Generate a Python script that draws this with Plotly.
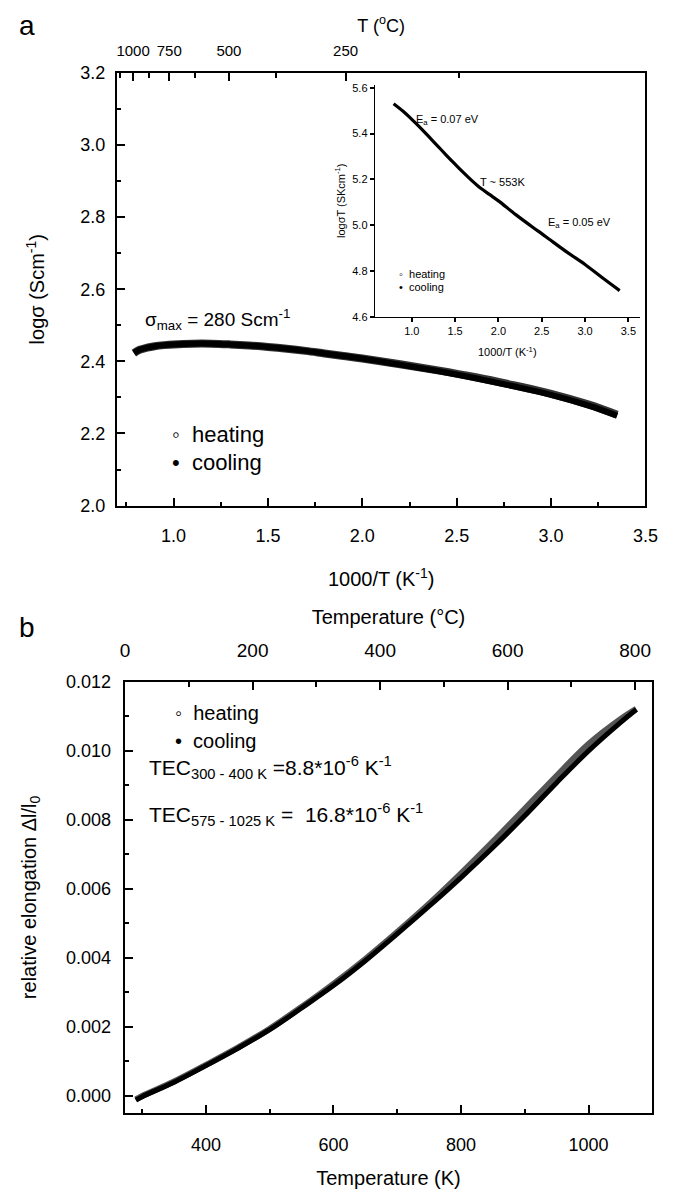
import plotly.graph_objects as go

FONT = "Arial, Liberation Sans, sans-serif"

# ---------------- Panel a: log sigma vs 1000/T ----------------
invT_a = [0.79, 0.82, 0.86, 0.90, 0.95, 1.00, 1.10, 1.20, 1.30, 1.40, 1.50, 1.60,
          1.70, 1.80, 1.90, 2.00, 2.20, 2.40, 2.60, 2.80, 3.00, 3.20, 3.35]
logsig_heat = [2.423, 2.432, 2.438, 2.442, 2.445, 2.447, 2.449, 2.449, 2.447, 2.444, 2.440, 2.435,
               2.429, 2.422, 2.415, 2.408, 2.392, 2.375, 2.356, 2.334, 2.310, 2.280, 2.252]
logsig_cool = [2.423, 2.432, 2.438, 2.442, 2.445, 2.447, 2.449, 2.449, 2.447, 2.444, 2.440, 2.435,
               2.429, 2.422, 2.415, 2.408, 2.391, 2.373, 2.353, 2.331, 2.307, 2.277, 2.249]

# top axis (°C)
topC_major = [1000, 750, 500, 250]
topC_minor = [1125, 875, 625, 375, 125]

# inset: log(sigma*T) vs 1000/T
invT_in = [0.79, 0.90, 1.00, 1.10, 1.20, 1.30, 1.40, 1.50, 1.60, 1.70, 1.76, 1.80,
           1.90, 2.00, 2.20, 2.40, 2.50, 2.60, 2.80, 3.00, 3.20, 3.40]
logsigT = [5.530, 5.497, 5.462, 5.425, 5.385, 5.345, 5.305, 5.266, 5.228, 5.192, 5.172, 5.160,
           5.133, 5.106, 5.046, 4.990, 4.963, 4.935, 4.880, 4.828, 4.770, 4.714]

# ---------------- Panel b: relative elongation ----------------
T_K = [290, 300, 350, 400, 450, 500, 550, 600, 650, 700, 750, 800, 850, 900, 950, 1000, 1050, 1075]
dl_heat = [-0.00010, 0.00000, 0.00042, 0.00090, 0.00140, 0.00195, 0.00258, 0.00325, 0.00397,
           0.00475, 0.00557, 0.00645, 0.00737, 0.00832, 0.00928, 0.01020, 0.01092, 0.01122]
dl_cool = [-0.00012, -0.00002, 0.00040, 0.00088, 0.00138, 0.00192, 0.00255, 0.00320, 0.00392,
           0.00470, 0.00550, 0.00633, 0.00720, 0.00812, 0.00908, 0.01000, 0.01082, 0.01120]
topCb_major = [0, 200, 400, 600, 800]
topCb_minor = [100, 300, 500, 700]

W, H = 675, 1194


def px(x):
    return x / W


def py(y):
    return 1 - y / H


fig = go.Figure()

# panel a curves
fig.add_trace(go.Scatter(x=invT_a, y=logsig_heat, mode="lines", xaxis="x", yaxis="y",
                         line=dict(color="#333", width=8, shape="spline"),
                         showlegend=False, hoverinfo="skip"))
fig.add_trace(go.Scatter(x=invT_a, y=logsig_cool, mode="lines", xaxis="x", yaxis="y",
                         line=dict(color="black", width=6, shape="spline"),
                         showlegend=False, hoverinfo="skip"))
# anchor trace for top axis of panel a (invisible)
fig.add_trace(go.Scatter(x=invT_a, y=logsig_cool, mode="lines", xaxis="x2", yaxis="y",
                         line=dict(color="rgba(0,0,0,0)", width=0), showlegend=False, hoverinfo="skip"))

# inset
fig.add_trace(go.Scatter(x=invT_in, y=logsigT, mode="lines", xaxis="x3", yaxis="y3",
                         line=dict(color="black", width=3.2, shape="spline"),
                         showlegend=False, hoverinfo="skip"))

# panel b
fig.add_trace(go.Scatter(x=T_K, y=dl_heat, mode="lines", xaxis="x4", yaxis="y4",
                         line=dict(color="#555", width=6, shape="spline"),
                         showlegend=False, hoverinfo="skip"))
fig.add_trace(go.Scatter(x=T_K, y=dl_cool, mode="lines", xaxis="x4", yaxis="y4",
                         line=dict(color="black", width=5, shape="spline"),
                         showlegend=False, hoverinfo="skip"))
fig.add_trace(go.Scatter(x=T_K, y=dl_cool, mode="lines", xaxis="x5", yaxis="y4",
                         line=dict(color="rgba(0,0,0,0)", width=0), showlegend=False, hoverinfo="skip"))

axcommon = dict(showgrid=False, zeroline=False, linecolor="black", linewidth=2,
                ticks="inside", tickcolor="black", tickwidth=1.5,
                tickfont=dict(family=FONT, size=18, color="black"))

xa_dom = [px(115), px(658)]
ya_dom = [py(504), py(64)]
xb_dom = [px(123), px(665)]
yb_dom = [py(1122), py(683)]
xi_dom = [px(380), px(652)]
yi_dom = [py(312), py(76)]

fig.update_layout(
    width=W, height=H, margin=dict(l=0, r=0, t=0, b=0),
    paper_bgcolor="white", plot_bgcolor="white",
    font=dict(family=FONT, color="black"),
    xaxis=dict(axcommon, domain=xa_dom, anchor="y", range=[0.7, 3.5], dtick=0.5, tick0=0,
               tickformat=".1f", ticklen=8, mirror=True, ticklabelstandoff=13,
               minor=dict(dtick=0.25, tick0=0, ticklen=4, ticks="inside", tickcolor="black"),
               title=dict(text="1000/T (K<sup>-1</sup>)", font=dict(family=FONT, size=20), standoff=27)),
    xaxis2=dict(axcommon, domain=xa_dom, anchor="y", overlaying="x", side="top", range=[0.7, 3.5],
                tickmode="array", tickvals=[1000 / (c + 273.15) for c in topC_major],
                ticktext=[str(c) for c in topC_major], ticklen=8, ticklabelstandoff=9,
                tickfont=dict(family=FONT, size=15, color="black"),
                minor=dict(tickmode="array", tickvals=[1000 / (c + 273.15) for c in topC_minor],
                           ticklen=5, ticks="inside", tickcolor="black"),
                title=dict(text="T (<sup>o</sup>C)", font=dict(family=FONT, size=18), standoff=5)),
    yaxis=dict(axcommon, domain=ya_dom, anchor="x", range=[2.0, 3.2], dtick=0.2, tick0=0,
               tickformat=".1f", ticklen=8, mirror=True, ticklabelstandoff=6,
               minor=dict(dtick=0.1, tick0=0, ticklen=4, ticks="inside", tickcolor="black"),
               title=dict(text="logσ (Scm<sup>-1</sup>)", font=dict(family=FONT, size=20), standoff=30)),
    xaxis3=dict(axcommon, domain=xi_dom, anchor="y3", range=[0.574, 3.63], dtick=0.5, tick0=0,
                tickformat=".1f", ticklen=4, linewidth=1.3, ticks="outside",
                tickfont=dict(family=FONT, size=11, color="black"),
                title=dict(text="1000/T (K<sup>-1</sup>)", font=dict(family=FONT, size=11), standoff=12)),
    yaxis3=dict(axcommon, domain=yi_dom, anchor="x3", range=[4.6, 5.613], dtick=0.2, tick0=0,
                tickformat=".1f", ticklen=4, linewidth=1.3, ticks="outside",
                tickfont=dict(family=FONT, size=11, color="black"),
                title=dict(text="logσT (SKcm<sup>-1</sup>)", font=dict(family=FONT, size=11), standoff=4)),
    xaxis4=dict(axcommon, domain=xb_dom, anchor="y4", range=[272.6, 1100], dtick=200, tick0=0,
                ticklen=8, mirror=True, ticklabelstandoff=14,
                minor=dict(dtick=100, tick0=0, ticklen=4, ticks="inside", tickcolor="black"),
                title=dict(text="Temperature (K)", font=dict(family=FONT, size=20), standoff=17)),
    xaxis5=dict(axcommon, domain=xb_dom, anchor="y4", overlaying="x4", side="top", range=[272.6, 1100],
                tickmode="array", tickvals=[c + 273.15 for c in topCb_major],
                ticktext=[str(c) for c in topCb_major], ticklen=8, ticklabelstandoff=15,
                tickfont=dict(family=FONT, size=19, color="black"),
                minor=dict(tickmode="array", tickvals=[c + 273.15 for c in topCb_minor],
                           ticklen=5, ticks="inside", tickcolor="black"),
                title=dict(text="Temperature (°C)", font=dict(family=FONT, size=20), standoff=10)),
    yaxis4=dict(axcommon, domain=yb_dom, anchor="x4", range=[-0.0005, 0.01201], dtick=0.002, tick0=0,
                tickformat=".3f", ticklen=8, mirror=True, ticklabelstandoff=8,
                minor=dict(dtick=0.001, tick0=0, ticklen=4, ticks="inside", tickcolor="black"),
                title=dict(text="relative elongation Δl/l<sub>0</sub>", font=dict(family=FONT, size=20),
                           standoff=24)),
)

ann = []


def add(text, x, y, size, xanchor="left"):
    ann.append(dict(text=text, x=px(x), y=py(y), xref="paper", yref="paper", showarrow=False,
                    xanchor=xanchor, yanchor="middle", font=dict(family=FONT, size=size, color="black")))


add("a", 12, 16, 28)
add("b", 12, 628, 28)
add("σ<sub>max</sub> = 280 Scm<sup>-1</sup>", 142, 315, 19)
add("◦  heating", 170, 432, 22)
add("•  cooling", 170, 460, 22)
add("E<sub>a</sub> = 0.07 eV", 420, 112, 11)
add("T ~ 553K", 486, 175, 11)
add("E<sub>a</sub> = 0.05 eV", 556, 217, 11)
add("◦  heating", 403, 268, 11)
add("•  cooling", 403, 282, 11)
add("◦  heating", 173, 715, 20)
add("•  cooling", 173, 743, 20)
add("TEC<sub>300 - 400 K</sub> =8.8*10<sup>-6</sup> K<sup>-1</sup>", 146, 770, 21)
add("TEC<sub>575 - 1025 K</sub> =  16.8*10<sup>-6</sup> K<sup>-1</sup>", 146, 818, 21)

fig.update_layout(annotations=ann)
fig.write_html("out.html")
